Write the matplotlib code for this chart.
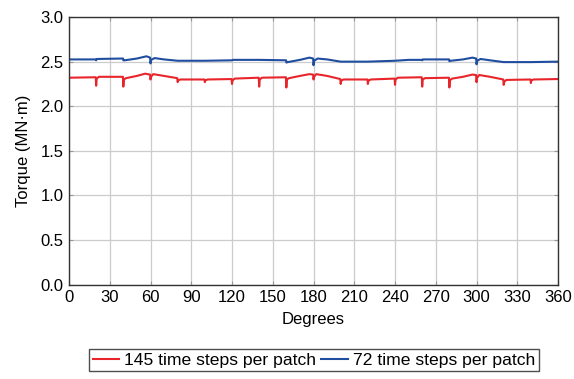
# Couple en fonction de l'angle pour deux pas de temps par patch
import matplotlib.pyplot as plt

plt.rcParams['font.family'] = ['Liberation Sans', 'DejaVu Sans']

# 145 pas de temps par patch
deg_145 = [0, 19.7, 20, 20.4, 22, 39.7, 40, 40.4, 42, 50, 56, 59.7, 60, 60.4, 62, 70,
           79.7, 80, 80.4, 82, 99.7, 100, 100.4, 102, 119.7, 120, 120.4, 122,
           139.7, 140, 140.4, 142, 159.7, 160, 160.4, 162, 170, 177, 179.7, 180, 180.4,
           182, 190, 199.7, 200, 200.4, 202, 219.7, 220, 220.4, 222, 239.7, 240, 240.4,
           242, 259.7, 260, 260.4, 262, 279.7, 280, 280.4, 282, 290, 297, 299.7, 300,
           300.4, 302, 310, 319.7, 320, 320.4, 322, 339.7, 340, 340.4, 342, 360]
torque_145 = [2.32, 2.325, 2.23, 2.31, 2.33, 2.33, 2.22, 2.30, 2.315, 2.34, 2.365, 2.355,
              2.30, 2.33, 2.36, 2.34, 2.315, 2.27, 2.29, 2.30, 2.30, 2.27, 2.29, 2.30,
              2.305, 2.25, 2.29, 2.31, 2.32, 2.22, 2.30, 2.32, 2.325, 2.21, 2.30, 2.315,
              2.34, 2.36, 2.355, 2.30, 2.33, 2.36, 2.34, 2.305, 2.25, 2.285, 2.30, 2.30,
              2.25, 2.285, 2.30, 2.31, 2.24, 2.30, 2.32, 2.325, 2.22, 2.30, 2.315, 2.32,
              2.21, 2.29, 2.31, 2.33, 2.355, 2.35, 2.27, 2.32, 2.35, 2.33, 2.30, 2.24,
              2.275, 2.295, 2.30, 2.26, 2.29, 2.30, 2.305]

# 72 pas de temps par patch
deg_72 = [0, 19.8, 20, 20.5, 39.8, 40, 41, 50, 57, 59.7, 60, 60.5, 63, 70, 80, 100, 120,
          120.5, 140, 159.8, 160, 161, 170, 177, 179.7, 180, 180.5, 183, 190, 200, 220,
          240, 250, 259.8, 260, 260.5, 279.8, 280, 281, 290, 297, 299.7, 300, 300.5,
          303, 310, 320, 340, 360]
torque_72 = [2.525, 2.525, 2.515, 2.53, 2.535, 2.515, 2.515, 2.535, 2.56, 2.545, 2.48,
             2.52, 2.54, 2.525, 2.51, 2.51, 2.515, 2.52, 2.52, 2.515, 2.49, 2.495, 2.52,
             2.545, 2.535, 2.46, 2.51, 2.535, 2.525, 2.50, 2.50, 2.51, 2.52, 2.52, 2.515,
             2.525, 2.525, 2.505, 2.51, 2.525, 2.545, 2.535, 2.47, 2.51, 2.53, 2.515,
             2.495, 2.495, 2.50]

fig = plt.figure(figsize=(5.74, 3.79), dpi=100)
ax = fig.add_axes([0.1202, 0.249, 0.852, 0.706])

ax.plot(deg_145, torque_145, color='#e8252b', lw=1.5, label="145 time steps per patch")
ax.plot(deg_72, torque_72, color='#1f4d9f', lw=1.5, label="72 time steps per patch")

ax.set_xlim(0, 360)
ax.set_ylim(0, 3.0)
ax.set_xticks(range(0, 361, 30))
ax.set_yticks([0, 0.5, 1.0, 1.5, 2.0, 2.5, 3.0])
ax.set_yticklabels(["0.0", "0.5", "1.0", "1.5", "2.0", "2.5", "3.0"])
ax.grid(color='#cccccc', lw=0.9)
ax.set_axisbelow(True)
ax.tick_params(direction='in', length=3, color='#999999', labelsize=12,
               top=True, right=True, pad=4)
for s in ax.spines.values():
    s.set_color('#333333')
    s.set_linewidth(1.0)

ax.set_xlabel("Degrees", fontsize=12, labelpad=5)
ax.set_ylabel("Torque (MN·m)", fontsize=12, labelpad=7)

leg = fig.legend(loc='upper center', bbox_to_anchor=(0.547, 0.079), ncol=2,
                 fontsize=12.6, frameon=True, fancybox=False, handlelength=1.5,
                 handletextpad=0.3, columnspacing=0.3, borderpad=0.2,
                 borderaxespad=0)
leg.get_frame().set_edgecolor('#222222')
leg.get_frame().set_linewidth(1.0)

fig.savefig("out.png", dpi=100)
